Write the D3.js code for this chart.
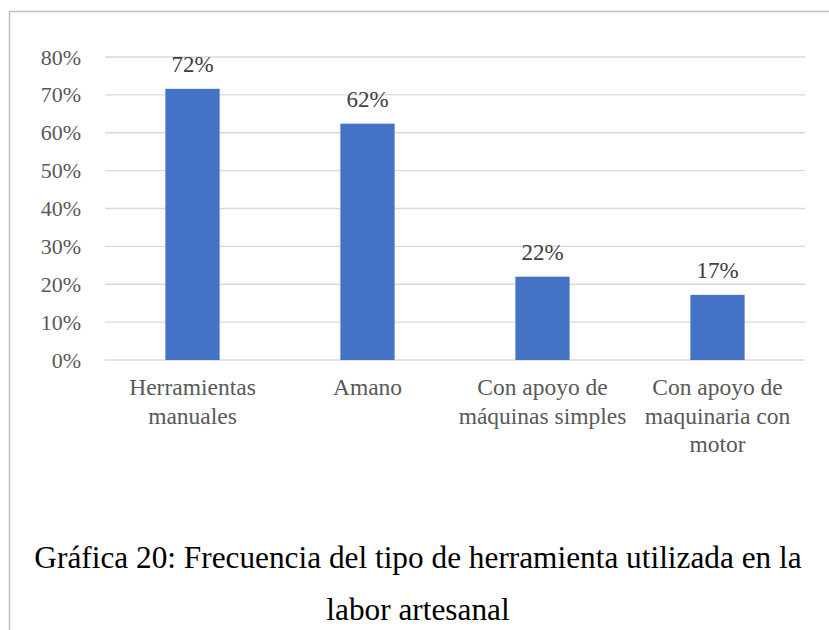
<!DOCTYPE html>
<html>
<head>
<meta charset="utf-8">
<script src="https://cdn.jsdelivr.net/npm/d3@7"></script>
<style>
  body { margin: 0; background: #fff; }
</style>
</head>
<body>
<div id="chart"></div>
<script>
// chart data
const categories = [
  ['Herramientas', 'manuales'],
  ['Amano'],
  ['Con apoyo de', 'máquinas simples'],
  ['Con apoyo de', 'maquinaria con', 'motor']
];
const values = [0.716, 0.624, 0.22, 0.172];
const valueLabels = ['72%', '62%', '22%', '17%'];
const yTicks = [0, 0.1, 0.2, 0.3, 0.4, 0.5, 0.6, 0.7, 0.8];
const titleLines = [
  'Gráfica 20: Frecuencia del tipo de herramienta utilizada en la',
  'labor artesanal'
];

const width = 829, height = 630;
const plot = { left: 105, right: 805, top: 57, bottom: 360 };
const serif = '"Liberation Serif"';

const svg = d3.select('#chart').append('svg')
  .attr('width', width).attr('height', height);

// outer frame (runs past the right and bottom edge)
svg.append('rect')
  .attr('x', 9.5).attr('y', 11.5)
  .attr('width', 900).attr('height', 700)
  .attr('fill', 'none').attr('stroke', '#bfbfbf').attr('stroke-width', 1.5);

const x = d3.scaleBand()
  .domain(d3.range(categories.length))
  .range([plot.left, plot.right])
  .paddingInner(0.69).paddingOuter(0.345);

const y = d3.scaleLinear().domain([0, 0.8]).range([plot.bottom, plot.top]);

// gridlines
svg.append('g').selectAll('line')
  .data(yTicks)
  .enter()
  .append('line')
  .attr('x1', plot.left).attr('x2', plot.right)
  .attr('y1', d => y(d)).attr('y2', d => y(d))
  .attr('stroke', '#d9d9d9').attr('stroke-width', 1.3);

// y axis labels
const yAxis = svg.append('g')
  .attr('transform', 'translate(' + 81 + ',0)')
  .call(d3.axisLeft(y).tickValues(yTicks).tickFormat(d3.format('.0%')).tickSize(0).tickPadding(0));
yAxis.select('.domain').remove();
yAxis.selectAll('text')
  .style('font-family', serif)
  .attr('font-size', 22).attr('fill', '#595959');

// bars
svg.append('g').selectAll('rect')
  .data(values)
  .enter()
  .append('rect')
  .attr('x', (d, i) => x(i))
  .attr('y', d => y(d))
  .attr('width', x.bandwidth())
  .attr('height', d => y(0) - y(d))
  .attr('fill', '#4472c4');

// value labels
svg.append('g').selectAll('text')
  .data(values)
  .enter()
  .append('text')
  .attr('x', (d, i) => x(i) + x.bandwidth() / 2)
  .attr('y', d => y(d) - 17)
  .attr('text-anchor', 'middle')
  .style('font-family', serif)
  .attr('font-size', 23).attr('fill', '#404040')
  .text((d, i) => valueLabels[i]);

// category labels
svg.append('g').selectAll('text')
  .data(categories)
  .enter()
  .append('text')
  .attr('text-anchor', 'middle')
  .style('font-family', serif)
  .attr('font-size', 23.5).attr('fill', '#595959')
  .each(function(lines, i) {
    const t = d3.select(this);
    lines.forEach((s, j) => {
      t.append('tspan')
        .attr('x', x(i) + x.bandwidth() / 2)
        .attr('y', 395 + j * 28.5)
        .text(s);
    });
  });

// caption
svg.append('g').selectAll('text')
  .data(titleLines)
  .enter()
  .append('text')
  .attr('x', 418)
  .attr('y', (d, i) => 568 + i * 52)
  .attr('text-anchor', 'middle')
  .style('font-family', serif)
  .attr('font-size', 31.3).attr('fill', '#000')
  .text(d => d);
</script>
</body>
</html>
